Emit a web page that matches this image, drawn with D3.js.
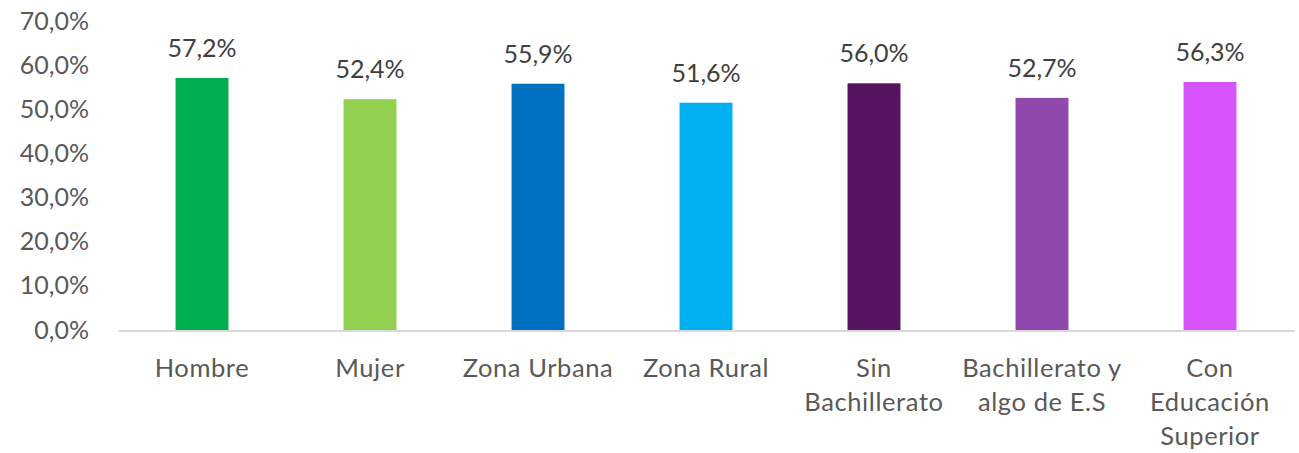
<!DOCTYPE html>
<html>
<head>
<meta charset="utf-8">
<script src="https://cdn.jsdelivr.net/npm/d3@7"></script>
<style>
  html, body { margin: 0; padding: 0; background: #ffffff; }
  svg { display: block; }
  text { font-family: Lato, "Open Sans", sans-serif; }
</style>
</head>
<body>
<svg id="chart" width="1299" height="453"></svg>
<script>
const categories = ["Hombre", "Mujer", "Zona Urbana", "Zona Rural", "Sin Bachillerato", "Bachillerato y algo de E.S", "Con Educación Superior"];
const categoryLines = [["Hombre"], ["Mujer"], ["Zona Urbana"], ["Zona Rural"], ["Sin", "Bachillerato"], ["Bachillerato y", "algo de E.S"], ["Con", "Educación", "Superior"]];
const values = [57.2, 52.4, 55.9, 51.6, 56.0, 52.7, 56.3];
const colors = ["#00b050", "#92d050", "#0070c0", "#00b0f0", "#561360", "#8f48ab", "#d654fa"];
const yTicks = [0, 10, 20, 30, 40, 50, 60, 70];

const svg = d3.select("#chart");
const locale = d3.formatLocale({decimal: ",", thousands: ".", grouping: [3], currency: ["", ""]});
const fmt = locale.format(".1f");

const x = d3.scaleBand().domain(categories).range([118, 1294]).paddingInner(0.685).paddingOuter(0.3425);
const y = d3.scaleLinear().domain([0, 70]).range([330.5, 21.5]);

// y axis labels
const yAxis = d3.axisLeft(y).tickValues(yTicks).tickSize(0).tickPadding(0).tickFormat(d => fmt(d) + "%");
const yg = svg.append("g").attr("transform", "translate(89,0)").call(yAxis);
yg.select(".domain").remove();
yg.selectAll("text").attr("font-size", 25).attr("fill", "#595959").attr("font-family", "Lato, 'Open Sans', sans-serif").attr("dy", "0.3em");

// bars
svg.append("g").selectAll("rect").data(values).join("rect")
  .attr("x", (d, i) => x(categories[i]))
  .attr("width", x.bandwidth())
  .attr("y", d => y(d))
  .attr("height", d => y(0) - y(d))
  .attr("fill", (d, i) => colors[i]);

// baseline axis
const xAxis = d3.axisBottom(x).tickSize(0).tickFormat("");
const xg = svg.append("g").attr("transform", `translate(0,${y(0)})`).call(xAxis);
xg.select(".domain").attr("stroke", "#d9d9d9").attr("stroke-width", 1.8);

// data labels
svg.append("g").selectAll("text").data(values).join("text")
  .attr("x", (d, i) => x(categories[i]) + x.bandwidth() / 2)
  .attr("y", d => y(d) - 21)
  .attr("text-anchor", "middle")
  .attr("font-size", 25)
  .attr("fill", "#404040")
  .text(d => fmt(d) + "%");

// category labels
const cl = svg.append("g").selectAll("text").data(categories).join("text")
  .attr("x", d => x(d) + x.bandwidth() / 2)
  .attr("y", 377)
  .attr("text-anchor", "middle")
  .attr("font-size", 25.5)
  .attr("letter-spacing", 0.6)
  .attr("fill", "#595959");
cl.each(function(d, i) {
  d3.select(this).selectAll("tspan").data(categoryLines[i]).join("tspan")
    .attr("x", x(d) + x.bandwidth() / 2)
    .attr("dy", (t, j) => j === 0 ? 0 : 34)
    .text(t => t);
});
</script>
</body>
</html>
